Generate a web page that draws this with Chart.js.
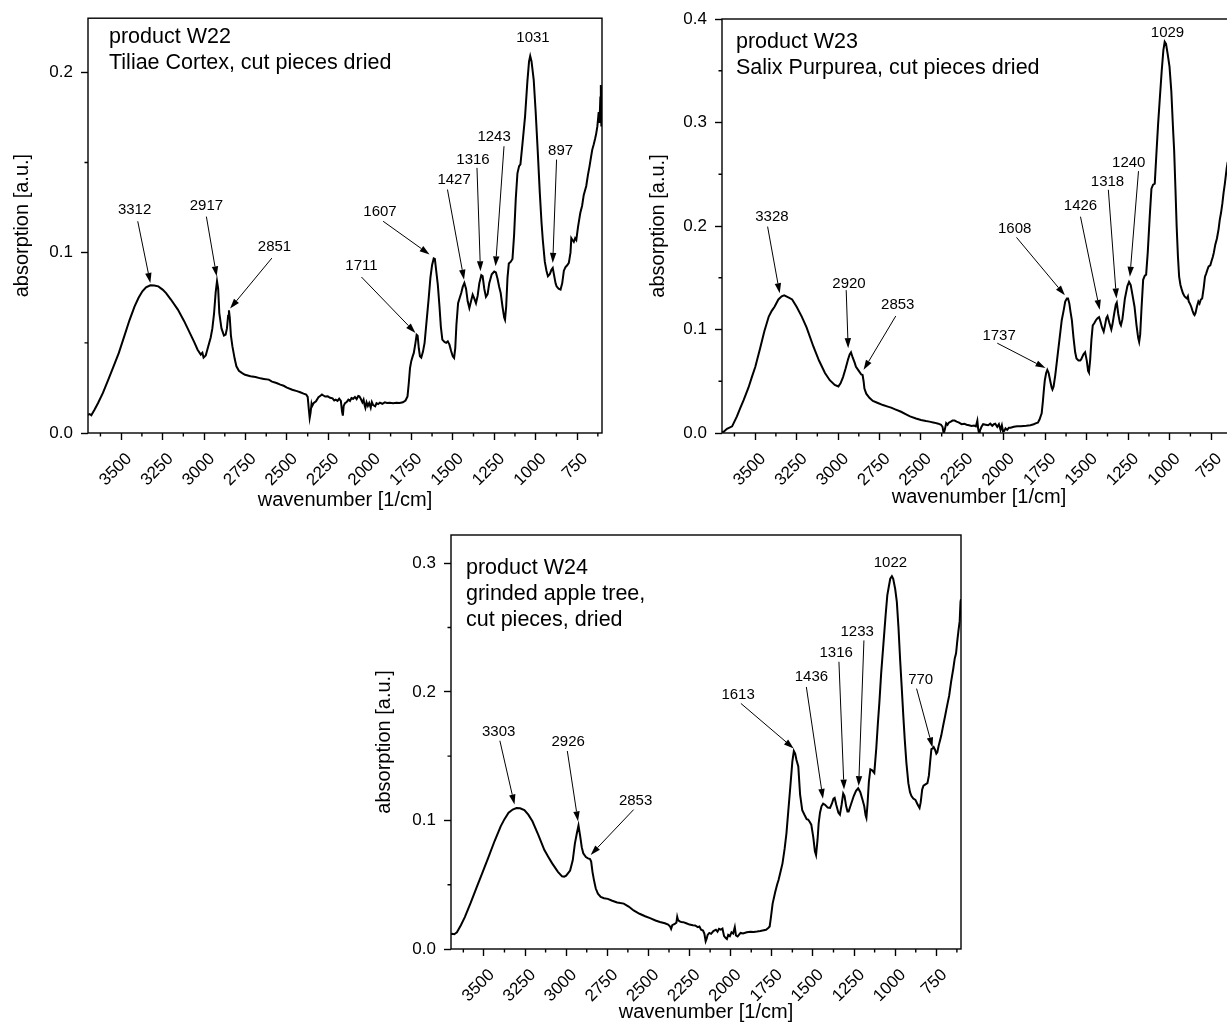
<!DOCTYPE html>
<html><head><meta charset="utf-8">
<script src="https://cdn.jsdelivr.net/npm/chart.js@4.4.1/dist/chart.umd.min.js"></script>
<style>
html,body{margin:0;padding:0;background:#fff;overflow:hidden;}
#page{position:relative;width:1227px;height:1026px;overflow:hidden;background:#fff;}
canvas{position:absolute;}
</style></head><body>
<div id="page">
<canvas id="c22" width="614" height="520" style="left:0px;top:0px"></canvas>
<canvas id="c23" width="630" height="520" style="left:620px;top:0px"></canvas>
<canvas id="c24" width="625" height="526" style="left:350px;top:500px"></canvas>
</div>
<script>
// ---------- data ----------
const w22Wavenumber = [3700,3690,3680,3660,3640,3610,3580,3550,3514,3480,3450,3419,3395,3372,3350,3324,3300,3276,3250,3229,3200,3158,3120,3086,3060,3039,3020,3010,3003,2990,2975,2960,2950,2940,2930,2922,2915,2908,2895,2880,2870,2862,2855,2850,2845,2838,2829,2815,2805,2790,2770,2753,2720,2690,2660,2640,2610,2590,2563,2540,2520,2500,2468,2440,2420,2400,2384,2375,2368,2363,2358,2352,2349,2340,2325,2310,2300,2289,2280,2270,2254,2240,2225,2215,2206,2195,2185,2175,2168,2163,2158,2150,2140,2130,2120,2111,2100,2090,2080,2070,2063,2055,2045,2038,2032,2027,2020,2012,2004,1995,1988,1980,1968,1960,1950,1940,1925,1910,1897,1880,1860,1840,1820,1801,1785,1773,1765,1758,1750,1742,1735,1725,1718,1712,1705,1698,1690,1680,1670,1660,1646,1635,1625,1615,1608,1600,1590,1580,1572,1563,1550,1540,1530,1520,1510,1500,1492,1485,1478,1468,1458,1449,1440,1430,1420,1410,1400,1390,1380,1370,1360,1350,1340,1328,1320,1310,1300,1290,1280,1265,1250,1240,1230,1220,1211,1200,1190,1185,1178,1170,1162,1150,1140,1130,1120,1110,1100,1092,1080,1064,1050,1040,1033,1025,1012,1000,988,975,965,957,945,935,926,915,905,897,888,880,874,862,850,840,830,820,810,800,790,785,778,770,762,755,745,738,731,720,710,695,685,675,668,659,650,642,635,628,620,615,610,607,604,600];
const w22Absorption = [0.0100,0.0105,0.0098,0.0130,0.0165,0.0222,0.0290,0.0360,0.0444,0.0540,0.0625,0.0702,0.0750,0.0786,0.0808,0.0819,0.0818,0.0813,0.0795,0.0776,0.0740,0.0684,0.0620,0.0555,0.0505,0.0462,0.0435,0.0445,0.0418,0.0430,0.0480,0.0530,0.0580,0.0660,0.0780,0.0842,0.0800,0.0665,0.0580,0.0540,0.0545,0.0580,0.0650,0.0680,0.0640,0.0540,0.0480,0.0410,0.0370,0.0345,0.0332,0.0323,0.0315,0.0310,0.0303,0.0300,0.0296,0.0285,0.0277,0.0268,0.0262,0.0252,0.0240,0.0232,0.0226,0.0218,0.0213,0.0200,0.0130,0.0083,0.0110,0.0160,0.0148,0.0165,0.0176,0.0198,0.0205,0.0213,0.0208,0.0202,0.0203,0.0195,0.0192,0.0180,0.0185,0.0178,0.0190,0.0178,0.0120,0.0096,0.0150,0.0166,0.0172,0.0185,0.0178,0.0194,0.0190,0.0200,0.0188,0.0205,0.0203,0.0190,0.0170,0.0185,0.0155,0.0139,0.0170,0.0150,0.0166,0.0140,0.0172,0.0155,0.0148,0.0165,0.0160,0.0168,0.0162,0.0170,0.0166,0.0168,0.0165,0.0168,0.0166,0.0170,0.0180,0.0203,0.0280,0.0360,0.0400,0.0425,0.0444,0.0500,0.0545,0.0540,0.0470,0.0425,0.0418,0.0450,0.0500,0.0600,0.0740,0.0860,0.0930,0.0968,0.0965,0.0900,0.0820,0.0700,0.0590,0.0518,0.0505,0.0500,0.0508,0.0490,0.0455,0.0425,0.0416,0.0470,0.0600,0.0720,0.0750,0.0776,0.0810,0.0832,0.0800,0.0730,0.0693,0.0730,0.0767,0.0745,0.0720,0.0760,0.0830,0.0875,0.0870,0.0800,0.0755,0.0770,0.0830,0.0880,0.0895,0.0890,0.0855,0.0810,0.0776,0.0700,0.0640,0.0628,0.0700,0.0860,0.0940,0.0950,0.0965,0.1100,0.1300,0.1440,0.1480,0.1490,0.1600,0.1756,0.1950,0.2060,0.2090,0.2060,0.1960,0.1780,0.1570,0.1330,0.1170,0.1070,0.0950,0.0900,0.0869,0.0880,0.0905,0.0915,0.0870,0.0830,0.0813,0.0800,0.0795,0.0830,0.0900,0.0920,0.0930,0.0943,0.1000,0.1080,0.1070,0.1060,0.1080,0.1070,0.1140,0.1180,0.1220,0.1260,0.1320,0.1370,0.1430,0.1480,0.1520,0.1570,0.1600,0.1630,0.1660,0.1700,0.1780,0.1720,0.1860,0.1930,0.1700,0.1920];

const w23Wavenumber = [3700,3690,3670,3639,3610,3590,3569,3540,3520,3499,3470,3445,3418,3400,3383,3360,3340,3325,3300,3277,3250,3219,3190,3149,3115,3079,3050,3020,2998,2985,2970,2955,2940,2930,2922,2912,2900,2892,2875,2860,2852,2846,2841,2830,2811,2790,2760,2729,2700,2680,2659,2620,2590,2566,2530,2500,2470,2449,2420,2395,2379,2370,2364,2360,2355,2348,2340,2332,2320,2310,2297,2285,2270,2255,2239,2225,2210,2195,2180,2169,2160,2155,2150,2145,2135,2125,2110,2095,2082,2070,2060,2052,2040,2030,2020,2012,2005,1998,1990,1980,1970,1959,1940,1920,1900,1880,1865,1840,1820,1805,1795,1785,1772,1765,1758,1753,1745,1738,1730,1720,1712,1707,1700,1690,1679,1665,1651,1640,1630,1620,1613,1605,1598,1590,1580,1570,1562,1550,1540,1534,1520,1510,1500,1492,1487,1480,1472,1464,1455,1445,1435,1426,1418,1408,1398,1390,1382,1375,1365,1352,1345,1335,1325,1319,1310,1300,1294,1285,1270,1255,1245,1235,1225,1212,1200,1190,1184,1178,1170,1160,1150,1142,1132,1120,1110,1100,1090,1080,1070,1060,1048,1038,1030,1022,1012,1001,990,980,973,965,958,950,943,935,928,920,910,903,896,890,885,878,870,862,855,850,844,836,827,820,812,804,795,787,780,772,765,755,748,740,734,725,715,705,698,690,682,675,668,662,656,650];
const w23Absorption = [0.0010,0.0012,0.0040,0.0064,0.0160,0.0240,0.0320,0.0440,0.0540,0.0640,0.0820,0.0980,0.1125,0.1180,0.1220,0.1290,0.1320,0.1330,0.1310,0.1290,0.1220,0.1125,0.1020,0.0836,0.0700,0.0580,0.0510,0.0465,0.0450,0.0480,0.0540,0.0620,0.0710,0.0760,0.0780,0.0730,0.0680,0.0640,0.0600,0.0565,0.0560,0.0500,0.0430,0.0380,0.0340,0.0310,0.0290,0.0270,0.0255,0.0245,0.0230,0.0205,0.0180,0.0160,0.0140,0.0125,0.0115,0.0110,0.0100,0.0090,0.0080,0.0060,0.0005,0.0010,0.0040,0.0095,0.0080,0.0100,0.0110,0.0120,0.0120,0.0110,0.0100,0.0085,0.0090,0.0080,0.0075,0.0068,0.0072,0.0064,0.0120,0.0040,0.0000,0.0020,0.0060,0.0085,0.0080,0.0075,0.0090,0.0070,0.0085,0.0090,0.0060,0.0085,0.0030,0.0075,0.0016,0.0020,0.0045,0.0030,0.0050,0.0050,0.0060,0.0065,0.0066,0.0068,0.0070,0.0075,0.0085,0.0095,0.0100,0.0130,0.0190,0.0300,0.0430,0.0510,0.0580,0.0610,0.0580,0.0500,0.0440,0.0420,0.0450,0.0560,0.0710,0.0900,0.1090,0.1180,0.1270,0.1300,0.1300,0.1250,0.1170,0.1090,0.0920,0.0780,0.0720,0.0700,0.0700,0.0710,0.0760,0.0780,0.0700,0.0600,0.0585,0.0700,0.0900,0.1040,0.1060,0.1090,0.1110,0.1120,0.1080,0.1020,0.0980,0.1040,0.1110,0.1130,0.1070,0.1000,0.1050,0.1150,0.1240,0.1260,0.1150,0.1060,0.1040,0.1100,0.1300,0.1420,0.1460,0.1430,0.1340,0.1220,0.1040,0.0920,0.0880,0.0950,0.1200,0.1480,0.1520,0.1530,0.1750,0.2100,0.2360,0.2400,0.2410,0.2700,0.2980,0.3220,0.3500,0.3700,0.3780,0.3760,0.3660,0.3540,0.3300,0.2950,0.2730,0.2350,0.2000,0.1700,0.1510,0.1430,0.1390,0.1350,0.1320,0.1310,0.1300,0.1320,0.1270,0.1250,0.1220,0.1180,0.1150,0.1140,0.1160,0.1220,0.1270,0.1250,0.1290,0.1300,0.1400,0.1510,0.1540,0.1580,0.1610,0.1620,0.1660,0.1700,0.1740,0.1820,0.1880,0.1970,0.2060,0.2130,0.2220,0.2320,0.2400,0.2480,0.2560,0.2620];

const w24Wavenumber = [3700,3693,3680,3664,3640,3616,3580,3543,3510,3471,3435,3398,3375,3350,3325,3302,3280,3254,3230,3205,3170,3133,3110,3085,3050,3025,3012,3000,2976,2960,2947,2935,2925,2915,2905,2896,2880,2867,2855,2848,2840,2831,2820,2807,2790,2770,2747,2720,2690,2670,2650,2620,2590,2554,2520,2490,2457,2430,2400,2380,2368,2362,2355,2340,2330,2325,2320,2310,2300,2288,2270,2250,2230,2216,2200,2190,2180,2168,2160,2152,2146,2140,2130,2119,2105,2090,2080,2071,2060,2050,2040,2030,2023,2015,2005,1995,1985,1975,1968,1958,1950,1940,1925,1902,1880,1860,1840,1820,1806,1785,1770,1763,1755,1745,1730,1718,1709,1697,1685,1672,1661,1650,1637,1625,1616,1608,1600,1589,1578,1565,1550,1538,1529,1520,1510,1498,1488,1481,1472,1465,1457,1448,1438,1425,1410,1396,1385,1375,1368,1358,1345,1336,1326,1316,1308,1298,1290,1283,1270,1252,1238,1225,1212,1199,1188,1180,1175,1168,1160,1151,1140,1127,1115,1105,1096,1085,1072,1058,1048,1040,1030,1020,1012,1000,990,980,970,961,950,942,932,920,910,901,890,877,866,858,852,845,836,828,816,804,795,788,780,772,766,758,750,744,736,728,720,708,696,688,680,672,660,647,638,630,623,615,608,603,600];
const w24Absorption = [0.0115,0.0118,0.0115,0.0130,0.0185,0.0248,0.0360,0.0483,0.0590,0.0719,0.0840,0.0954,0.1010,0.1060,0.1085,0.1097,0.1095,0.1080,0.1045,0.0993,0.0890,0.0771,0.0720,0.0666,0.0600,0.0565,0.0562,0.0570,0.0610,0.0690,0.0820,0.0900,0.0960,0.0880,0.0790,0.0745,0.0715,0.0705,0.0700,0.0680,0.0600,0.0536,0.0470,0.0430,0.0405,0.0395,0.0390,0.0375,0.0362,0.0357,0.0353,0.0330,0.0300,0.0274,0.0255,0.0240,0.0222,0.0210,0.0200,0.0190,0.0175,0.0157,0.0185,0.0195,0.0205,0.0250,0.0225,0.0215,0.0210,0.0209,0.0200,0.0190,0.0185,0.0183,0.0170,0.0175,0.0150,0.0144,0.0120,0.0060,0.0080,0.0110,0.0125,0.0118,0.0140,0.0150,0.0135,0.0157,0.0150,0.0158,0.0100,0.0085,0.0078,0.0110,0.0100,0.0130,0.0120,0.0170,0.0105,0.0097,0.0110,0.0125,0.0120,0.0130,0.0135,0.0133,0.0136,0.0140,0.0144,0.0150,0.0165,0.0175,0.0250,0.0353,0.0440,0.0500,0.0536,0.0600,0.0666,0.0780,0.0900,0.1070,0.1270,0.1460,0.1540,0.1520,0.1470,0.1420,0.1200,0.1080,0.1040,0.1010,0.1006,0.0990,0.0967,0.0870,0.0760,0.0730,0.0850,0.0980,0.1060,0.1110,0.1130,0.1120,0.1100,0.1097,0.1130,0.1170,0.1176,0.1120,0.1060,0.1045,0.1120,0.1210,0.1190,0.1110,0.1070,0.1070,0.1120,0.1190,0.1230,0.1250,0.1220,0.1163,0.1110,0.1040,0.1020,0.1130,0.1300,0.1398,0.1390,0.1370,0.1560,0.1760,0.1920,0.2150,0.2365,0.2600,0.2750,0.2810,0.2880,0.2900,0.2880,0.2800,0.2700,0.2500,0.2250,0.2050,0.1800,0.1630,0.1450,0.1290,0.1220,0.1190,0.1170,0.1160,0.1130,0.1110,0.1097,0.1140,0.1240,0.1270,0.1280,0.1290,0.1350,0.1450,0.1555,0.1560,0.1570,0.1550,0.1520,0.1530,0.1580,0.1620,0.1660,0.1740,0.1816,0.1870,0.1920,0.1970,0.2080,0.2180,0.2260,0.2300,0.2390,0.2480,0.2550,0.2700,0.2720];

// axis ranges and tick steps
const xMin = 600, xMax = 3700, xStep = 250;
const yStep = 0.1;
const w22YMax = 0.23, w23YMax = 0.40, w24YMax = 0.322;

// texts
const xTitle = 'wavenumber [1/cm]';
const yTitle = 'absorption [a.u.]';
const w22Text = ['product W22', 'Tiliae Cortex, cut pieces dried'];
const w23Text = ['product W23', 'Salix Purpurea, cut pieces dried'];
const w24Text = ['product W24', 'grinded apple tree,', 'cut pieces, dried'];

// peak labels: label centre and arrow (data coordinates)
const w22Peaks = [
  {label:'3312', at:[3419,0.1235], from:[3400,0.1174], to:[3324,0.0832]},
  {label:'2917', at:[2986,0.126], from:[2986,0.120], to:[2924,0.0869]},
  {label:'2851', at:[2575,0.103], from:[2591,0.097], to:[2843,0.0690]},
  {label:'1711', at:[2051,0.0928], from:[2051,0.0865], to:[1725,0.0555]},
  {label:'1607', at:[1939,0.1227], from:[1920,0.1174], to:[1640,0.0990]},
  {label:'1427', at:[1492,0.1405], from:[1532,0.1350], to:[1432,0.0850]},
  {label:'1316', at:[1378,0.1516], from:[1354,0.1470], to:[1333,0.0897]},
  {label:'1243', at:[1251,0.1640], from:[1191,0.1590], to:[1242,0.0924]},
  {label:'1031', at:[1016,0.2190]},
  {label:'897', at:[850,0.1566], from:[874,0.1516], to:[897,0.0943]}
];
const w23Peaks = [
  {label:'3328', at:[3399,0.2084], from:[3425,0.1994], to:[3352,0.1350]},
  {label:'2920', at:[2934,0.1440], from:[2951,0.1380], to:[2939,0.0820]},
  {label:'2853', at:[2640,0.1238], from:[2652,0.1130], to:[2846,0.0610]},
  {label:'1737', at:[2029,0.0940], from:[2040,0.0868], to:[1749,0.0627]},
  {label:'1608', at:[1935,0.1970], from:[1924,0.1890], to:[1632,0.1330]},
  {label:'1426', at:[1538,0.2190], from:[1538,0.2090], to:[1422,0.1190]},
  {label:'1318', at:[1375,0.2430], from:[1370,0.2350], to:[1321,0.1300]},
  {label:'1240', at:[1247,0.2610], from:[1188,0.2530], to:[1240,0.1510]},
  {label:'1029', at:[1013,0.3865]}
];
const w24Peaks = [
  {label:'3303', at:[3410,0.1685], from:[3403,0.1620], to:[3314,0.1124]},
  {label:'2926', at:[2988,0.1610], from:[2993,0.1540], to:[2928,0.0993]},
  {label:'2853', at:[2578,0.1155], from:[2590,0.1084], to:[2851,0.0732]},
  {label:'1613', at:[1955,0.1980], from:[1938,0.1910], to:[1617,0.1560]},
  {label:'1436', at:[1509,0.2117], from:[1540,0.2038], to:[1439,0.1168]},
  {label:'1316', at:[1359,0.2300], from:[1342,0.2234], to:[1311,0.1240]},
  {label:'1233', at:[1231,0.2464], from:[1190,0.2400], to:[1222,0.1267]},
  {label:'1022', at:[1029,0.3005]},
  {label:'770', at:[845,0.2090], from:[870,0.2025], to:[773,0.1568]}
];

// ---------- drawing ----------
const FONT = "'Liberation Sans', Arial, Helvetica, sans-serif";

const decor = {
  id: 'spectrumDecor',
  afterDraw(chart, args, o) {
    const {ctx, chartArea: a, scales: {x, y}} = chart;
    ctx.save();
    ctx.strokeStyle = '#000';
    ctx.fillStyle = '#000';
    ctx.lineWidth = 1.4;
    ctx.strokeRect(a.left, a.top, a.right - a.left, a.bottom - a.top);
    // minor ticks
    ctx.beginPath();
    for (let v = xMin + xStep / 10; v < xMax; v += xStep) {
      const px = x.getPixelForValue(v);
      ctx.moveTo(px, a.bottom); ctx.lineTo(px, a.bottom + 3.5);
    }
    for (let k = 0; (k + 0.5) * yStep < y.max; k++) {
      const py = y.getPixelForValue((k + 0.5) * yStep);
      ctx.moveTo(a.left, py); ctx.lineTo(a.left - 3.5, py);
    }
    ctx.stroke();
    // description text
    ctx.font = '21.5px ' + FONT;
    ctx.textAlign = 'left'; ctx.textBaseline = 'alphabetic';
    o.lines.forEach((t, i) => ctx.fillText(t, a.left + o.dx, a.top + o.dy + i * o.gap));
    // peak labels and arrows
    ctx.font = '15px ' + FONT;
    ctx.textAlign = 'center'; ctx.textBaseline = 'middle';
    ctx.lineWidth = 1;
    o.peaks.forEach(p => {
      ctx.fillText(p.label, x.getPixelForValue(p.at[0]), y.getPixelForValue(p.at[1]));
      if (!p.from) return;
      const x0 = x.getPixelForValue(p.from[0]), y0 = y.getPixelForValue(p.from[1]);
      const x1 = x.getPixelForValue(p.to[0]), y1 = y.getPixelForValue(p.to[1]);
      const ang = Math.atan2(y1 - y0, x1 - x0);
      const hl = 10, hw = 3.2;
      const bx = x1 - hl * Math.cos(ang), by = y1 - hl * Math.sin(ang);
      ctx.beginPath(); ctx.moveTo(x0, y0); ctx.lineTo(bx, by); ctx.stroke();
      ctx.beginPath();
      ctx.moveTo(x1, y1);
      ctx.lineTo(bx + hw * Math.sin(ang), by - hw * Math.cos(ang));
      ctx.lineTo(bx - hw * Math.sin(ang), by + hw * Math.cos(ang));
      ctx.closePath(); ctx.fill();
    });
    ctx.restore();
  }
};

function spectrumChart(id, xs, ys, yMax, peaks, lines, g) {
  const pts = xs.map((v, i) => ({x: v, y: ys[i]}));
  return new Chart(document.getElementById(id), {
    type: 'line',
    data: {datasets: [{data: pts, borderColor: '#000', borderWidth: 2, pointRadius: 0, tension: 0, fill: false}]},
    options: {
      responsive: false, animation: false, devicePixelRatio: 1,
      layout: {padding: {left: 0, top: g.top, right: g.right, bottom: 0}},
      plugins: {
        legend: {display: false}, tooltip: {enabled: false},
        spectrumDecor: {peaks: peaks, lines: lines, dx: g.dx, dy: g.dy, gap: g.gap}
      },
      scales: {
        x: {
          type: 'linear', reverse: true, min: xMin, max: xMax, position: 'bottom',
          afterFit: s => { s.height = g.xH; },
          ticks: {stepSize: xStep, includeBounds: false, autoSkip: false, minRotation: 45, maxRotation: 45,
                  padding: 9, labelOffset: 8, color: '#000', font: {family: FONT, size: 17}, callback: v => String(v)},
          grid: {display: true, drawOnChartArea: false, drawTicks: true, tickLength: 7, tickColor: '#000', tickWidth: 1.4},
          border: {display: false},
          title: {display: true, text: xTitle, color: '#000', font: {family: FONT, size: 20}, padding: {top: 0, bottom: g.xTitlePb}}
        },
        y: {
          type: 'linear', min: 0, max: yMax,
          afterFit: s => { s.width = g.yW; },
          ticks: {stepSize: yStep, includeBounds: false, padding: 8, color: '#000', font: {family: FONT, size: 17}, callback: v => v.toFixed(1)},
          grid: {display: true, drawOnChartArea: false, drawTicks: true, tickLength: 7, tickColor: '#000', tickWidth: 1.4},
          border: {display: false},
          title: {display: true, text: yTitle, color: '#000', font: {family: FONT, size: 20}, padding: {top: g.yTitlePt, bottom: 0}}
        }
      }
    },
    plugins: [decor]
  });
}

spectrumChart('c22', w22Wavenumber, w22Absorption, w22YMax, w22Peaks, w22Text,
  {top: 18, right: 12, xH: 87, yW: 88, xTitlePb: 8, yTitlePt: 10, dx: 21, dy: 25, gap: 26});
spectrumChart('c23', w23Wavenumber, w23Absorption, w23YMax, w23Peaks, w23Text,
  {top: 19, right: 14, xH: 87, yW: 102, xTitlePb: 11, yTitlePt: 26, dx: 14, dy: 29, gap: 26});
spectrumChart('c24', w24Wavenumber, w24Absorption, w24YMax, w24Peaks, w24Text,
  {top: 35, right: 14, xH: 77, yW: 101, xTitlePb: 2, yTitlePt: 22, dx: 15, dy: 39, gap: 26});
</script>
</body></html>
